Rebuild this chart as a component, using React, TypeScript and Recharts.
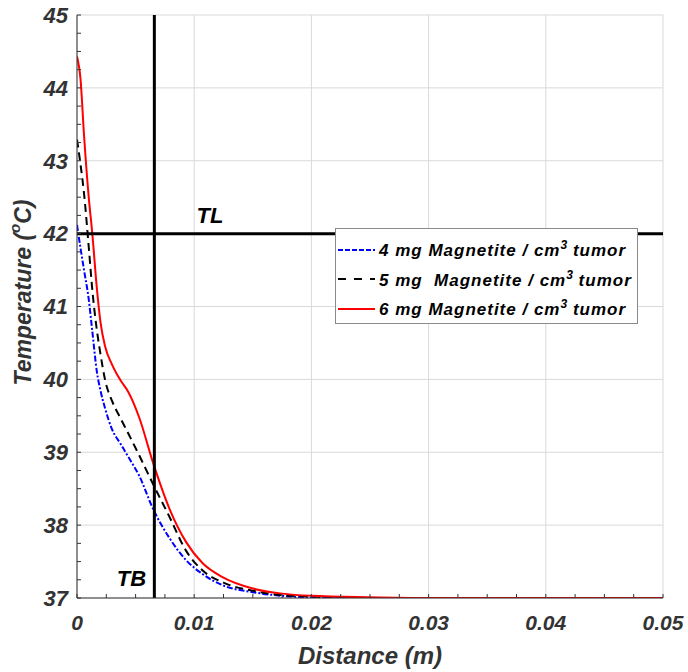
import React from 'react';
import {
  ComposedChart, Line, XAxis, YAxis, CartesianGrid, ReferenceLine,
} from 'recharts';

const distances = [0, 0.0003, 0.0006, 0.001, 0.0013, 0.0017, 0.002, 0.0024, 0.003, 0.0037, 0.0044, 0.0053, 0.0065, 0.0079, 0.0093, 0.0107, 0.0125, 0.015, 0.0175, 0.02, 0.025, 0.03, 0.035, 0.04, 0.045, 0.05];
const temp4mg = [42.12, 41.8, 41.5, 41.1, 40.67, 40.1, 39.85, 39.6, 39.31, 39.12, 38.93, 38.68, 38.22, 37.82, 37.52, 37.33, 37.17, 37.08, 37.03, 37.01, 37.0, 37.0, 37.0, 37.0, 37.0, 37.0];
const temp5mg = [43.29, 42.95, 42.55, 41.82, 41.24, 40.67, 40.35, 39.99, 39.7, 39.47, 39.25, 38.96, 38.56, 38.11, 37.65, 37.38, 37.21, 37.1, 37.04, 37.02, 37.0, 37.0, 37.0, 37.0, 37.0, 37.0];
const temp6mg = [44.43, 44.12, 43.35, 42.5, 42.01, 41.24, 40.79, 40.45, 40.2, 39.99, 39.82, 39.48, 38.85, 38.22, 37.77, 37.48, 37.28, 37.13, 37.06, 37.03, 37.01, 37.0, 37.0, 37.0, 37.0, 37.0];

const xDomain = [0, 0.05];
const yDomain = [37, 45];
const xMajorTicks = [0, 0.01, 0.02, 0.03, 0.04, 0.05];
const xMinorTicks = [0, 0.0025, 0.005, 0.0075, 0.01, 0.0125, 0.015, 0.0175, 0.02, 0.0225, 0.025, 0.0275, 0.03, 0.0325, 0.035, 0.0375, 0.04, 0.0425, 0.045, 0.0475, 0.05];
const yMajorTicks = [37, 38, 39, 40, 41, 42, 43, 44, 45];
const yMinorTicks = [37, 37.25, 37.5, 37.75, 38, 38.25, 38.5, 38.75, 39, 39.25, 39.5, 39.75, 40, 40.25, 40.5, 40.75, 41, 41.25, 41.5, 41.75, 42, 42.25, 42.5, 42.75, 43, 43.25, 43.5, 43.75, 44, 44.25, 44.5, 44.75, 45];
const tumorBoundary = 0.0066;
const lethalTemp = 42;

const seriesNames = ['4 mg Magnetite / cm', '5 mg  Magnetite / cm', '6 mg Magnetite / cm'];
const seriesKeys = ['t4', 't5', 't6'];
const seriesColors = ['#0000ff', '#000000', '#ff0000'];
const seriesDash = ['6 2 2 2', '8 5', undefined];
const legendDash = ['5 2', '8 8', undefined];

const data = distances.map((d, i) => ({ x: d, t4: temp4mg[i], t5: temp5mg[i], t6: temp6mg[i] }));

const FONT = '"Liberation Sans", Arial, sans-serif';
const AXIS_COLOR = '#333333';
const TICK_COLOR = '#333333';

const isMajorX = (v: number) => xMajorTicks.some((t) => Math.abs(t - v) < 1e-9);

const XTick = (props: any) => {
  const { x, y, payload } = props;
  const v = payload.value;
  if (!isMajorX(v)) return null;
  return (
    <text x={x} y={y} dy="0.71em" textAnchor="middle" fill={TICK_COLOR} fontFamily={FONT} fontWeight="bold" fontStyle="italic" fontSize={21}>
      {String(Math.round(v * 100) / 100)}
    </text>
  );
};

const YTick = (props: any) => {
  const { x, y, payload } = props;
  const v = payload.value;
  if (Math.abs(v - Math.round(v)) > 1e-9) return null;
  return (
    <text x={x} y={y} dy="0.355em" textAnchor="end" fill={TICK_COLOR} fontFamily={FONT} fontWeight="bold" fontStyle="italic" fontSize={22}>
      {v}
    </text>
  );
};

const YLabel = (props: any) => {
  const vb = props.viewBox || {};
  const cx = 25;
  const cy = (vb.y ?? 0) + (vb.height ?? 0) / 2 - 14;
  return (
    <text x={cx} y={cy} transform={`rotate(-90 ${cx} ${cy})`} textAnchor="middle" dominantBaseline="middle" fill={TICK_COLOR} fontFamily={FONT} fontWeight="bold" fontStyle="italic" fontSize={23}>
      <tspan>Temperature (</tspan>
      <tspan dy={-9} fontSize={15}>o</tspan>
      <tspan dy={9}>C)</tspan>
    </text>
  );
};

const XLabel = (props: any) => {
  const vb = props.viewBox || {};
  const cx = (vb.x ?? 0) + (vb.width ?? 0) / 2;
  return (
    <text x={cx} y={658} textAnchor="middle" dominantBaseline="middle" fill={TICK_COLOR} fontFamily={FONT} fontWeight="bold" fontStyle="italic" fontSize={24}>
      Distance (m)
    </text>
  );
};

const TLLabel = (props: any) => {
  const vb = props.viewBox || {};
  return (
    <text x={(vb.x ?? 0) + 133} y={(vb.y ?? 0) - 16} textAnchor="middle" dominantBaseline="middle" fill="#000" fontFamily={FONT} fontWeight="bold" fontStyle="italic" fontSize={22}>
      TL
    </text>
  );
};

const TBLabel = (props: any) => {
  const vb = props.viewBox || {};
  return (
    <text x={(vb.x ?? 0) - 23} y={(vb.y ?? 0) + (vb.height ?? 0) - 18} textAnchor="middle" dominantBaseline="middle" fill="#000" fontFamily={FONT} fontWeight="bold" fontStyle="italic" fontSize={22}>
      TB
    </text>
  );
};

const LegendBox = () => (
  <div style={{ position: 'absolute', left: 335, top: 228, width: 303, height: 96, background: '#fff', border: '1px solid #8a8a8a', boxSizing: 'border-box', paddingTop: 6 }}>
    {seriesNames.map((name, i) => (
      <div key={seriesKeys[i]} style={{ display: 'flex', alignItems: 'center', height: 29.5 }}>
        <svg width={43} height={10} style={{ flex: 'none' }}>
          <line x1={2} y1={5} x2={39} y2={5} stroke={seriesColors[i]} strokeWidth={2} strokeDasharray={legendDash[i]} />
        </svg>
        <span style={{ fontFamily: FONT, fontWeight: 'bold', fontStyle: 'italic', fontSize: 17, letterSpacing: 1, color: '#000', whiteSpace: 'pre' }}>
          {name}<sup style={{ fontSize: 12, letterSpacing: 0 }}>3</sup> tumor
        </span>
      </div>
    ))}
  </div>
);

const vGen = (args: any) => {
  const o = args?.offset;
  if (!o) return [];
  return xMajorTicks.map((t) => o.left + ((t - xDomain[0]) / (xDomain[1] - xDomain[0])) * o.width);
};
const hGen = (args: any) => {
  const o = args?.offset;
  if (!o) return [];
  return yMajorTicks.map((t) => o.top + ((yDomain[1] - t) / (yDomain[1] - yDomain[0])) * o.height);
};

export default function App() {
  return (
    <div style={{ position: 'absolute', left: 0, top: 0, width: 688, height: 672, background: '#fff' }}>
      <ComposedChart width={688} height={672} data={data} margin={{ top: 15, right: 25, bottom: 0, left: 0 }}>
        <CartesianGrid xAxisId="main" yAxisId="main" stroke="#d9d9d9" strokeWidth={1} verticalCoordinatesGenerator={vGen} horizontalCoordinatesGenerator={hGen} />
        <XAxis xAxisId="top" orientation="top" dataKey="x" type="number" domain={xDomain} ticks={xMinorTicks} interval={0} height={0} tick={false} tickSize={-4} axisLine={{ stroke: AXIS_COLOR }} tickLine={{ stroke: AXIS_COLOR }} allowDataOverflow />
        <XAxis xAxisId="main" orientation="bottom" dataKey="x" type="number" domain={xDomain} ticks={xMinorTicks} interval={0} height={74} tick={<XTick />} tickSize={-4} tickMargin={21} axisLine={{ stroke: AXIS_COLOR }} tickLine={{ stroke: AXIS_COLOR }} label={<XLabel />} allowDataOverflow />
        <YAxis yAxisId="main" orientation="left" type="number" domain={yDomain} ticks={yMinorTicks} interval={0} width={77} tick={<YTick />} tickSize={-4} tickMargin={13} axisLine={{ stroke: AXIS_COLOR }} tickLine={{ stroke: AXIS_COLOR }} label={<YLabel />} allowDataOverflow />
        <YAxis yAxisId="right" orientation="right" type="number" domain={yDomain} ticks={yMinorTicks} interval={0} width={0} tick={false} tickSize={-4} axisLine={{ stroke: AXIS_COLOR }} tickLine={{ stroke: AXIS_COLOR }} allowDataOverflow />
        {seriesKeys.map((k, i) => (
          <Line key={k} xAxisId="main" yAxisId="main" type="monotone" dataKey={k} name={seriesNames[i]} stroke={seriesColors[i]} strokeWidth={2} strokeDasharray={seriesDash[i]} dot={false} isAnimationActive={false} />
        ))}
        <ReferenceLine xAxisId="main" yAxisId="main" y={lethalTemp} stroke="#000" strokeWidth={3} label={<TLLabel />} />
        <ReferenceLine xAxisId="main" yAxisId="main" x={tumorBoundary} stroke="#000" strokeWidth={3} label={<TBLabel />} />
      </ComposedChart>
      <LegendBox />
    </div>
  );
}
